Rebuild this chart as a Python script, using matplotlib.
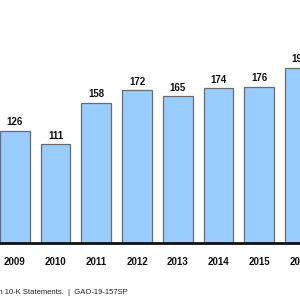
import matplotlib
matplotlib.use("Agg")
import matplotlib.pyplot as plt

years = ["2009", "2010", "2011", "2012", "2013", "2014", "2015", "2016"]
values = [126, 111, 158, 172, 165, 174, 176, 197]
bar_labels = ["126", "111", "158", "172", "165", "174", "176", "197"]
source_note = "Source: GAO analysis of company data from 10-K Statements.  |  GAO-19-157SP"

plt.rcParams["font.family"] = ["Liberation Sans", "DejaVu Sans"]

fig = plt.figure(figsize=(3, 3), dpi=100)
fig.patch.set_facecolor("white")

# axes spans the full width, baseline ~57 px above bottom edge
ax = fig.add_axes([0, 57 / 300, 1, 243 / 300])
ax.set_xlim(-15 / 41.4, 285 / 41.4)
ax.set_ylim(0, 243 / 0.889)

xs = range(len(years))
ax.bar(xs, values, width=0.73, color="#99CCFF", edgecolor="#6b6b6b", linewidth=0.9)

for x, v, lab in zip(xs, values, bar_labels):
    ax.text(x, v + 4, lab, ha="center", va="bottom", fontsize=7, fontweight="bold", color="#111111")

ax.set_xticks(list(xs))
ax.set_xticklabels(years, fontsize=7, fontweight="bold", color="#111111")
ax.tick_params(axis="x", length=0, pad=10)
ax.set_yticks([])

for side in ["top", "right", "left"]:
    ax.spines[side].set_visible(False)
ax.spines["bottom"].set_linewidth(2)
ax.spines["bottom"].set_color("#111111")

fig.text(128 / 300, 1 - 292 / 300, source_note, ha="right", va="center", fontsize=5.5, color="#222222")

fig.savefig("out.png", dpi=100, facecolor="white")
